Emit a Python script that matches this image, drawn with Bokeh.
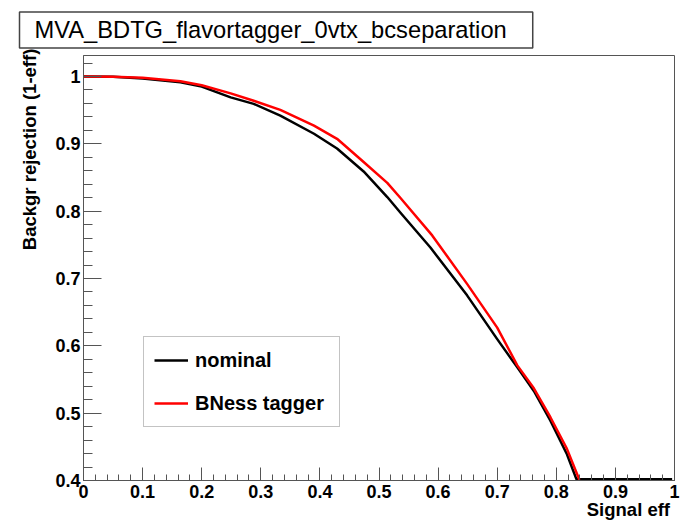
import numpy as np
from bokeh.plotting import figure
from bokeh.models import FixedTicker, Legend, LegendItem, Range1d, LinearAxis
from bokeh.embed import file_html
from bokeh.resources import INLINE

# ---- data ----
sig_nominal = [0.0, 0.05, 0.10, 0.164, 0.20, 0.249, 0.288, 0.333, 0.39, 0.429, 0.474,
               0.514, 0.536, 0.587, 0.649, 0.70, 0.734, 0.762, 0.79, 0.818, 0.834, 0.90, 0.996]
rej_nominal = [1.0, 0.9995, 0.997, 0.9916, 0.985, 0.969, 0.9594, 0.942, 0.915, 0.893, 0.859,
               0.821, 0.798, 0.746, 0.675, 0.610, 0.568, 0.533, 0.489, 0.439, 0.402, 0.402, 0.402]

sig_bness = [0.0, 0.05, 0.10, 0.164, 0.20, 0.249, 0.288, 0.333, 0.39, 0.429, 0.474,
             0.514, 0.536, 0.59, 0.649, 0.70, 0.734, 0.762, 0.79, 0.818, 0.839]
rej_bness = [1.0, 0.9995, 0.998, 0.993, 0.987, 0.975, 0.964, 0.9505, 0.927, 0.9075, 0.873,
             0.842, 0.820, 0.764, 0.692, 0.627, 0.571, 0.537, 0.494, 0.447, 0.401]

x_ticks = [0.0, 0.1, 0.2, 0.3, 0.4, 0.5, 0.6, 0.7, 0.8, 0.9, 1.0]
x_tick_labels = ["0", "0.1", "0.2", "0.3", "0.4", "0.5", "0.6", "0.7", "0.8", "0.9", "1"]
y_ticks = [0.4, 0.5, 0.6, 0.7, 0.8, 0.9, 1.0]
y_tick_labels = ["0.4", "0.5", "0.6", "0.7", "0.8", "0.9", "1"]

series_names = ["nominal", "BNess tagger"]
series_colors = ["#000000", "#ff0000"]

title_text = "MVA_BDTG_flavortagger_0vtx_bcseparation"
x_title = "Signal eff"
y_title = "Backgr rejection (1-eff)"
# where the axis titles sit along their axes (title centre, in axis units)
x_title_pos = 0.922
y_title_pos = 0.8917

FONT = "Liberation Sans"
AX = "#555555"

p = figure(frame_width=591, frame_height=425, output_backend="svg", toolbar_location=None,
           x_range=Range1d(0, 1), y_range=Range1d(0.4, 1.0312), title=title_text,
           min_border_left=83, min_border_right=12, min_border_top=55, min_border_bottom=45)
p.background_fill_color = "white"
p.border_fill_color = "white"
p.outline_line_color = AX
p.outline_line_width = 1
p.xgrid.visible = False
p.ygrid.visible = False

# title box
p.title.align = "left"
p.title.offset = -64
p.title.standoff = 15
p.title.text_font = FONT
p.title.text_font_style = "normal"
p.title.text_font_size = "23.7px"
p.title.text_color = "black"
p.title.border_line_color = "#444444"
p.title.border_line_width = 1.5
p.title.background_fill_color = "white"
p.title.background_fill_alpha = 1
p.title.padding = {"left": 15, "right": 26, "top": 5, "bottom": 5}

x_minor = [round(v, 2) for v in np.arange(0.0, 1.0001, 0.02)]
y_minor = [round(v, 2) for v in np.arange(0.4, 1.03, 0.02)]
p.xaxis.ticker = FixedTicker(ticks=x_ticks, minor_ticks=x_minor)
p.yaxis.ticker = FixedTicker(ticks=y_ticks, minor_ticks=y_minor)
p.xaxis.major_label_overrides = {t: s for t, s in zip(x_ticks, x_tick_labels)}
p.yaxis.major_label_overrides = {t: s for t, s in zip(y_ticks, y_tick_labels)}

for ax in (p.xaxis[0], p.yaxis[0]):
    ax.axis_line_color = AX
    ax.major_tick_line_color = AX
    ax.minor_tick_line_color = AX
    ax.major_tick_out = 0
    ax.minor_tick_out = 0
    ax.major_label_text_font = FONT
    ax.major_label_text_font_style = "bold"
    ax.major_label_text_font_size = "18px"
    ax.major_label_text_color = "black"
p.xaxis.major_tick_in = 13
p.xaxis.minor_tick_in = 6
p.yaxis.major_tick_in = 18
p.yaxis.minor_tick_in = 9
p.xaxis.major_label_standoff = 4
p.yaxis.major_label_standoff = 3

# axis titles, placed as single labels on bare outer axes (ROOT puts them at the axis end)
xt_axis = LinearAxis(ticker=FixedTicker(ticks=[x_title_pos], minor_ticks=[]),
                     major_label_overrides={x_title_pos: x_title})
yt_axis = LinearAxis(ticker=FixedTicker(ticks=[y_title_pos], minor_ticks=[]),
                     major_label_overrides={y_title_pos: y_title},
                     major_label_orientation="vertical")
for ax in (xt_axis, yt_axis):
    ax.axis_line_color = None
    ax.major_tick_line_color = None
    ax.minor_tick_line_color = None
    ax.major_tick_in = 0
    ax.major_tick_out = 0
    ax.minor_tick_in = 0
    ax.minor_tick_out = 0
    ax.major_label_text_font = FONT
    ax.major_label_text_font_style = "bold"
    ax.major_label_text_font_size = "18.5px"
    ax.major_label_text_color = "black"
xt_axis.major_label_standoff = -2
yt_axis.major_label_standoff = 12
p.add_layout(xt_axis, "below")
p.add_layout(yt_axis, "left")

r_nom = p.line(sig_nominal, rej_nominal, line_color=series_colors[0], line_width=2.5, line_join="round")
r_bn = p.line(sig_bness, rej_bness, line_color=series_colors[1], line_width=2.5, line_join="round")

legend = Legend(items=[LegendItem(label=series_names[0], renderers=[r_nom]),
                       LegendItem(label=series_names[1], renderers=[r_bn])],
                location=(60, 53), orientation="vertical")
legend.label_text_font = FONT
legend.label_text_font_style = "bold"
legend.label_text_font_size = "20px"
legend.label_text_color = "black"
legend.glyph_width = 34
legend.glyph_height = 26
legend.label_height = 26
legend.label_width = 134
legend.label_standoff = 7
legend.spacing = 17
legend.padding = 10
legend.margin = 0
legend.border_line_color = "#888888"
legend.border_line_width = 1
legend.background_fill_color = "white"
legend.background_fill_alpha = 1
p.add_layout(legend)

open("out.html", "w").write(file_html(p, INLINE))
